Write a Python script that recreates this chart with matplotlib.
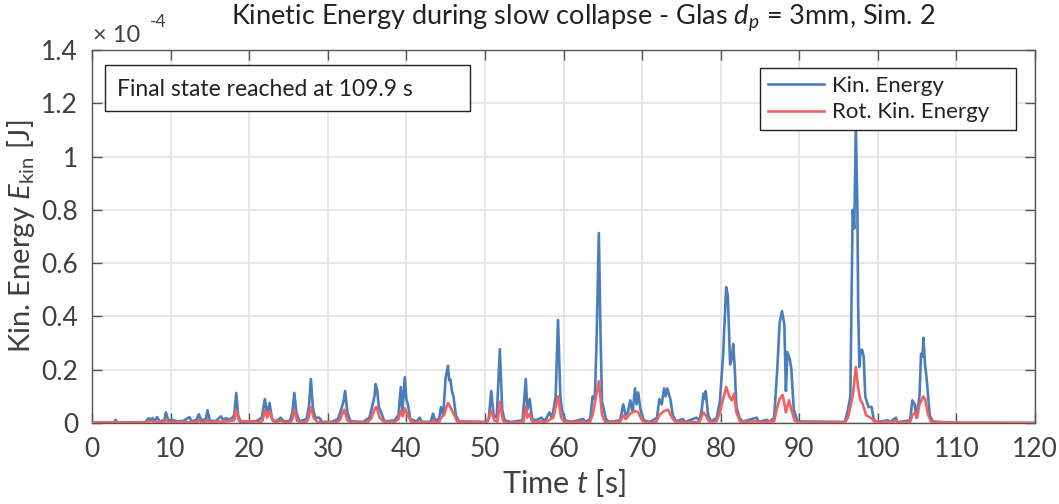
import matplotlib
matplotlib.use("Agg")
import matplotlib.pyplot as plt
from matplotlib.patches import Rectangle

plt.rcParams['font.family'] = ['Lato', 'DejaVu Sans']
plt.rcParams['mathtext.fontset'] = 'custom'
plt.rcParams['mathtext.rm'] = 'Lato'
plt.rcParams['mathtext.it'] = 'Lato:italic'
plt.rcParams['mathtext.bf'] = 'Lato:bold'

# Total kinetic energy, time [s] and value [1e-4 J]
kin_t = [0, 2.8, 3.0, 3.2, 6.8, 7.2, 7.5, 7.7, 8.0, 8.3, 8.6, 9.2, 9.4, 9.7, 10.2, 10.8,
         11.6, 12.4, 12.7, 13.3, 13.6, 13.9, 14.5, 14.7, 15.0, 15.8, 16.4, 16.7, 17.0, 17.4,
         17.8, 18.1, 18.35, 18.6, 18.9, 20.0, 21.0, 21.6, 22.0, 22.3, 22.6, 22.9, 23.4, 24.0,
         24.4, 25.2, 25.5, 25.75, 26.0, 26.4, 27.3, 27.6, 27.85, 28.1, 28.4, 28.9, 29.3, 30.5,
         31.3, 31.7, 32.0, 32.2, 32.5, 32.9, 34.5, 35.3, 35.7, 35.95, 36.1, 36.3, 36.5, 36.8,
         37.2, 38.5, 39.0, 39.3, 39.5, 39.8, 40.0, 40.2, 40.5, 41.3, 41.7, 42.0, 43.1, 43.4,
         43.7, 44.2, 44.4, 44.7, 45.0, 45.3, 45.45, 45.6, 45.8, 46.0, 46.3, 46.7, 50.2, 50.5,
         50.8, 51.1, 51.5, 51.9, 52.2, 52.5, 53.3, 54.8, 55.2, 55.4, 55.7, 56.0, 56.5, 57.2,
         57.6, 58.2, 58.5, 58.7, 59.0, 59.3, 59.6, 59.8, 60.2, 61.0, 62.5, 62.8, 63.4, 63.7,
         63.9, 64.0, 64.2, 64.5, 64.7, 64.9, 65.4, 65.8, 67.2, 67.6, 67.9, 68.2, 68.5, 68.8,
         69.1, 69.3, 69.5, 69.8, 70.2, 71.0, 71.9, 72.2, 72.5, 72.8, 73.0, 73.2, 73.6, 73.9,
         74.3, 75.2, 75.5, 76.9, 77.3, 77.6, 77.8, 78.0, 78.1, 78.4, 78.8, 79.5, 79.9, 80.3,
         80.7, 80.9, 81.0, 81.2, 81.4, 81.6, 81.8, 82.0, 82.4, 82.8, 84.6, 84.8, 85.9, 86.2,
         86.8, 87.2, 87.5, 87.8, 88.1, 88.3, 88.5, 88.8, 89.0, 89.3, 89.8, 95.8, 96.2, 96.5,
         96.8, 97.0, 97.2, 97.4, 97.5, 97.65, 97.8, 98.0, 98.2, 98.4, 98.8, 99.2, 99.5, 100.0,
         101.3, 101.5, 102.3, 102.5, 104.1, 104.4, 104.7, 104.9, 105.3, 105.5, 105.7, 105.8,
         106.0, 106.2, 106.6, 107.0, 109.9, 120.0]
kin_e = [0.002, 0.002, 0.012, 0.002, 0.003, 0.018, 0.012, 0.019, 0.008, 0.022, 0.006, 0.01,
         0.04, 0.01, 0.012, 0.006, 0.008, 0.022, 0.006, 0.012, 0.033, 0.01, 0.015, 0.048,
         0.008, 0.008, 0.025, 0.01, 0.018, 0.014, 0.018, 0.03, 0.113, 0.03, 0.005, 0.004,
         0.008, 0.02, 0.09, 0.03, 0.075, 0.015, 0.005, 0.02, 0.006, 0.008, 0.04, 0.113, 0.04,
         0.006, 0.015, 0.06, 0.165, 0.06, 0.02, 0.02, 0.004, 0.004, 0.015, 0.05, 0.08, 0.12,
         0.04, 0.006, 0.004, 0.02, 0.07, 0.1, 0.146, 0.12, 0.06, 0.04, 0.006, 0.01, 0.03,
         0.135, 0.04, 0.172, 0.09, 0.07, 0.015, 0.006, 0.02, 0.004, 0.005, 0.035, 0.005, 0.02,
         0.06, 0.03, 0.17, 0.215, 0.16, 0.165, 0.12, 0.1, 0.03, 0.006, 0.004, 0.02, 0.12,
         0.03, 0.02, 0.277, 0.05, 0.01, 0.004, 0.01, 0.165, 0.05, 0.09, 0.015, 0.01, 0.02,
         0.005, 0.04, 0.02, 0.045, 0.1, 0.387, 0.1, 0.05, 0.01, 0.004, 0.015, 0.004, 0.015,
         0.1, 0.09, 0.1, 0.3, 0.713, 0.35, 0.08, 0.015, 0.004, 0.01, 0.07, 0.03, 0.04, 0.085,
         0.04, 0.13, 0.07, 0.115, 0.05, 0.01, 0.004, 0.02, 0.09, 0.07, 0.13, 0.1, 0.13, 0.09,
         0.03, 0.006, 0.015, 0.004, 0.02, 0.01, 0.05, 0.11, 0.09, 0.12, 0.03, 0.005, 0.02,
         0.08, 0.25, 0.51, 0.48, 0.4, 0.22, 0.24, 0.297, 0.2, 0.06, 0.02, 0.005, 0.02, 0.004,
         0.012, 0.004, 0.02, 0.2, 0.375, 0.42, 0.37, 0.12, 0.266, 0.24, 0.2, 0.05, 0.006,
         0.004, 0.05, 0.1, 0.8, 0.73, 1.12, 0.8, 0.43, 0.21, 0.27, 0.275, 0.25, 0.1, 0.06,
         0.06, 0.01, 0.004, 0.01, 0.003, 0.02, 0.003, 0.01, 0.085, 0.07, 0.02, 0.1, 0.26,
         0.25, 0.32, 0.22, 0.17, 0.03, 0.005, 0.001, 0.0]

# Rotational kinetic energy, time [s] and value [1e-4 J]
rot_t = [0, 2.8, 3.0, 3.2, 7.0, 7.5, 8.0, 9.2, 9.4, 9.7, 13.4, 13.6, 13.9, 14.5, 14.7, 15.0,
         17.0, 18.1, 18.35, 18.7, 21.5, 21.7, 22.0, 22.3, 22.6, 23.0, 23.5, 24.0, 24.4, 25.3,
         25.5, 25.75, 26.1, 26.5, 27.3, 27.5, 27.85, 28.2, 28.6, 29.0, 31.0, 31.5, 32.1, 32.5,
         32.9, 35.0, 35.5, 36.0, 36.2, 36.6, 37.1, 38.5, 39.0, 39.3, 39.55, 39.8, 40.2, 40.6,
         41.5, 43.2, 43.4, 43.7, 44.2, 44.4, 44.8, 45.1, 45.3, 45.6, 46.0, 46.5, 50.3, 50.8,
         51.2, 51.6, 51.9, 52.3, 52.8, 54.9, 55.2, 55.4, 55.7, 56.0, 56.5, 57.2, 57.6, 58.2,
         58.7, 59.3, 59.7, 60.1, 62.5, 62.8, 63.4, 63.7, 64.5, 64.9, 65.3, 67.2, 67.6, 67.9,
         68.5, 69.1, 69.5, 70.0, 70.5, 71.8, 72.2, 72.8, 73.3, 73.9, 74.3, 75.2, 75.5, 77.3,
         77.8, 78.1, 78.5, 79.0, 79.5, 79.9, 80.7, 81.1, 81.4, 81.7, 82.0, 82.5, 84.6, 84.8,
         86.8, 87.2, 87.5, 87.9, 88.3, 88.7, 89.0, 89.4, 89.8, 95.8, 96.2, 96.8, 97.2, 97.5,
         97.8, 98.1, 98.5, 99.3, 99.6, 101.3, 101.5, 102.3, 102.5, 104.1, 104.4, 104.8, 105.0,
         105.3, 105.8, 106.0, 106.4, 106.8, 109.9, 120.0]
rot_e = [0.001, 0.001, 0.006, 0.001, 0.002, 0.008, 0.003, 0.003, 0.015, 0.003, 0.003, 0.012,
         0.003, 0.003, 0.012, 0.003, 0.006, 0.01, 0.05, 0.008, 0.003, 0.01, 0.048, 0.02,
         0.045, 0.008, 0.003, 0.01, 0.003, 0.003, 0.015, 0.05, 0.008, 0.002, 0.004, 0.015,
         0.06, 0.02, 0.006, 0.002, 0.002, 0.01, 0.05, 0.01, 0.002, 0.002, 0.015, 0.055, 0.06,
         0.02, 0.005, 0.003, 0.015, 0.045, 0.025, 0.055, 0.03, 0.005, 0.003, 0.002, 0.01,
         0.002, 0.004, 0.02, 0.03, 0.06, 0.075, 0.06, 0.035, 0.005, 0.002, 0.045, 0.01,
         0.005, 0.08, 0.008, 0.002, 0.003, 0.063, 0.02, 0.035, 0.006, 0.003, 0.006, 0.002,
         0.012, 0.02, 0.1, 0.02, 0.004, 0.005, 0.002, 0.005, 0.03, 0.157, 0.03, 0.004, 0.004,
         0.03, 0.015, 0.035, 0.045, 0.04, 0.01, 0.002, 0.004, 0.03, 0.045, 0.05, 0.015, 0.004,
         0.005, 0.002, 0.004, 0.04, 0.03, 0.006, 0.002, 0.008, 0.04, 0.135, 0.1, 0.085, 0.11,
         0.04, 0.004, 0.006, 0.002, 0.006, 0.06, 0.09, 0.105, 0.04, 0.085, 0.05, 0.01, 0.003,
         0.002, 0.02, 0.1, 0.21, 0.13, 0.085, 0.07, 0.03, 0.015, 0.003, 0.004, 0.002, 0.008,
         0.002, 0.004, 0.03, 0.04, 0.02, 0.07, 0.1, 0.09, 0.03, 0.004, 0.001, 0.0]

x_ticks = list(range(0, 121, 10))
y_ticks = [0, 0.2, 0.4, 0.6, 0.8, 1.0, 1.2, 1.4]
y_tick_labels = ['0', '0.2', '0.4', '0.6', '0.8', '1', '1.2', '1.4']
final_time = 109.9

blue = '#4a7ebb'
red = '#f06262'
txt = '#404040'
dark = '#222222'

W, H = 1059, 504
fig = plt.figure(figsize=(W / 100, H / 100), dpi=100)
ax = fig.add_axes([92 / W, 1 - 423 / H, (1035 - 92) / W, (423 - 50) / H])

ax.plot(kin_t, kin_e, color=blue, lw=1.9, label='Kin. Energy', zorder=3)
ax.plot(rot_t, rot_e, color=red, lw=1.9, label='Rot. Kin. Energy', zorder=4)

ax.set_xlim(0, 120)
ax.set_ylim(0, 1.4)
ax.set_xticks(x_ticks)
ax.set_yticks(y_ticks)
ax.set_yticklabels(y_tick_labels)
ax.grid(True, color='#e3e3e3', lw=1.2, zorder=0)
ax.set_axisbelow(True)
ax.tick_params(direction='in', length=7, width=1, colors='#555555',
               labelcolor=txt, labelsize=19, top=True, right=True, pad=10)
for s in ax.spines.values():
    s.set_color('#555555')
    s.set_linewidth(1.0)

ax.set_xlabel('Time $t$ [s]', fontsize=22, color=txt, labelpad=4)
ax.set_ylabel(r'Kin. Energy $E_{\mathrm{kin}}$ [J]', fontsize=21, color=txt)
ax.yaxis.set_label_coords((37 - 92) / 943, 0.5)
fig.text(583 / W, 1 - 18 / H,
         r'Kinetic Energy during slow collapse - Glas $d_{p}$ = 3mm, Sim. 2',
         fontsize=19.5, color=dark, ha='center', va='center')

# exponent marker for the y axis
fig.text(93 / W, 1 - 42 / H, '× 10', fontsize=17, color=txt, ha='left', va='baseline')
fig.text(150 / W, 1 - 27 / H, '-4', fontsize=12.5, color=txt, ha='left', va='baseline')

leg = ax.legend(loc='upper left', bbox_to_anchor=(760 / W, 1 - 68 / H, 256 / W, 0),
                bbox_transform=fig.transFigure, mode='expand', fontsize=16, frameon=True,
                fancybox=False, framealpha=1, edgecolor=dark, handlelength=2.55,
                borderpad=0.35, labelspacing=0.3, handletextpad=0.35, borderaxespad=0)
leg.get_frame().set_linewidth(1.0)
for t in leg.get_texts():
    t.set_color(dark)

# annotation box with the settling time
x0, x1 = 105, 470
y0, y1 = 65, 111
ax.add_patch(Rectangle(((x0 - 92) / 943, (423 - y1) / 373), (x1 - x0) / 943, (y1 - y0) / 373,
                       transform=ax.transAxes, facecolor='white', edgecolor=dark, lw=1.0,
                       zorder=5))
ax.text((117 - 92) / 943, (423 - 89) / 373, f'Final state reached at {final_time} s',
        transform=ax.transAxes, fontsize=16.5, color=dark, ha='left', va='center', zorder=6)

fig.savefig('out.png', dpi=100)
